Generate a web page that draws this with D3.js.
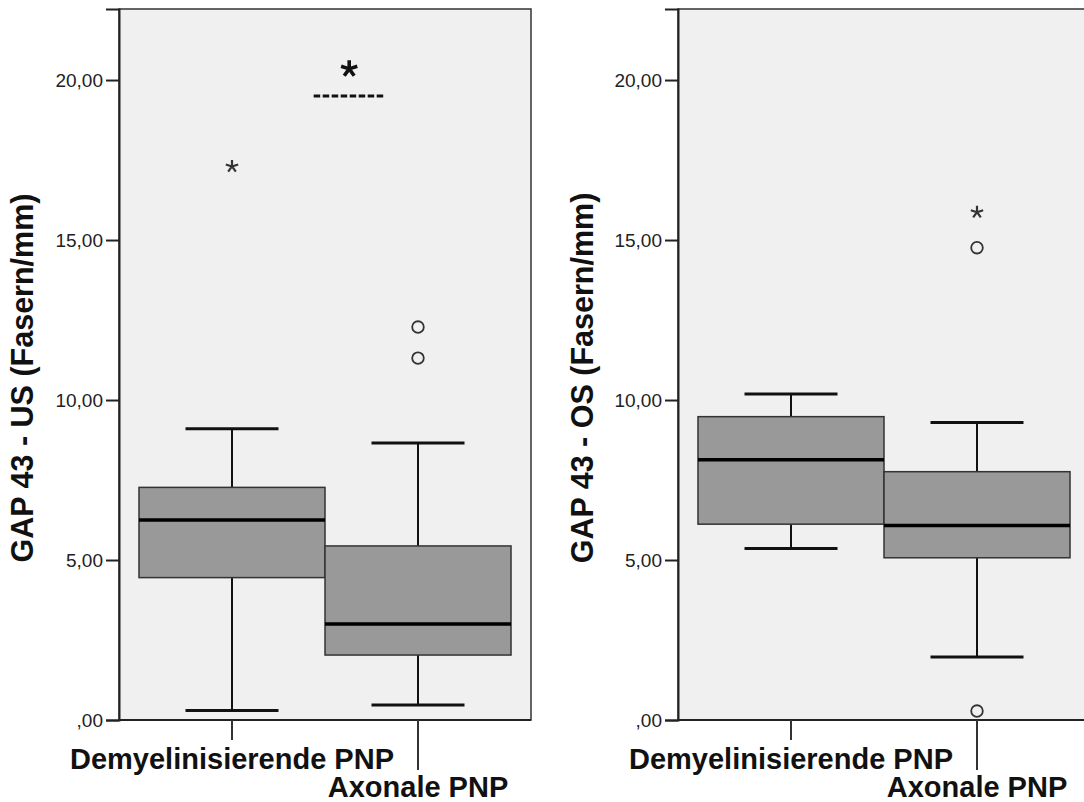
<!DOCTYPE html>
<html>
<head>
<meta charset="utf-8">
<script src="https://cdn.jsdelivr.net/npm/d3@7"></script>
<style>
  body { margin: 0; background: #fff; }
  svg { display: block; font-family: Arial, 'Liberation Sans', sans-serif; }
</style>
</head>
<body>
<div id="chart"></div>
<script>
const categories = ['Demyelinisierende PNP', 'Axonale PNP']
const yTicks = [0, 5, 10, 15, 20]

// box stats: [lower whisker, q1, median, q3, upper whisker]
const usStats = [
  [0.3, 4.45, 6.25, 7.27, 9.1],
  [0.47, 2.03, 3.0, 5.44, 8.66],
]
const osStats = [
  [5.36, 6.12, 8.13, 9.48, 10.19],
  [1.97, 5.07, 6.08, 7.76, 9.3],
]

// outliers: [category index, value]
const usCircles = [[1, 12.28], [1, 11.31]]
const usStars = [[0, 17.3]]
const osCircles = [[1, 14.76], [1, 0.28]]
const osStars = [[1, 15.87]]

const panels = [
  { title: 'GAP 43 - US (Fasern/mm)', stats: usStats, circles: usCircles, stars: usStars, x0: 119, x1: 531, titleX: 23, sig: true },
  { title: 'GAP 43 - OS (Fasern/mm)', stats: osStats, circles: osCircles, stars: osStars, x0: 678, x1: 1090, titleX: 583, sig: false },
]

const width = 1084
const height = 802
const plotTop = 9
const plotBottom = 720

const svg = d3.select('#chart').append('svg')
  .attr('width', width)
  .attr('height', height)

const scaleY = d3.scaleLinear()
  .domain([0, 22.22])
  .range([plotBottom, plotTop])

function starPath(r) {
  let p = ''
  for (let i = 0; i < 5; i++) {
    const a = -Math.PI / 2 + i * 2 * Math.PI / 5
    p += `M0,0L${(r * Math.cos(a)).toFixed(2)},${(r * Math.sin(a)).toFixed(2)}`
  }
  return p
}

function drawPanel(panel) {
  const g = svg.append('g')

  const scaleX = d3.scaleBand()
    .domain(categories)
    .range([panel.x0, panel.x1])
    .paddingInner(0)
    .paddingOuter(0.1075)

  const bw = scaleX.bandwidth()

  g.append('rect')
    .attr('x', panel.x0)
    .attr('y', plotTop)
    .attr('width', panel.x1 - panel.x0)
    .attr('height', plotBottom - plotTop)
    .attr('fill', '#f0f0f0')
    .attr('stroke', '#333')
    .attr('stroke-width', 1.5)

  // y axis
  const axisY = d3.axisLeft(scaleY)
    .tickValues(yTicks)
    .tickSize(13)
    .tickPadding(3)
    .tickFormat(d => d === 0 ? ',00' : d3.format('.2f')(d).replace('.', ','))

  const yG = g.append('g')
    .attr('transform', `translate(${panel.x0},0)`)
    .call(axisY)
  yG.select('.domain').attr('stroke', '#222').attr('stroke-width', 2)
  yG.selectAll('.tick line').attr('stroke', '#222').attr('stroke-width', 2)
  yG.selectAll('.tick text')
    .attr('font-size', 19)
    .attr('fill', '#222')

  // x axis line + staggered ticks
  g.append('line')
    .attr('x1', panel.x0).attr('x2', panel.x1)
    .attr('y1', plotBottom).attr('y2', plotBottom)
    .attr('stroke', '#222').attr('stroke-width', 2)

  categories.forEach((c, i) => {
    const cx = scaleX(c) + bw / 2
    g.append('line')
      .attr('x1', cx).attr('x2', cx)
      .attr('y1', plotBottom).attr('y2', i === 0 ? 740 : 770)
      .attr('stroke', '#333').attr('stroke-width', 2)
    g.append('text')
      .attr('x', cx)
      .attr('y', i === 0 ? 769 : 797)
      .attr('text-anchor', 'middle')
      .attr('font-size', 29)
      .attr('font-weight', 'bold')
      .attr('fill', '#111')
      .text(c)
  })

  // boxes
  panel.stats.forEach((s, i) => {
    const x = scaleX(categories[i])
    const cx = x + bw / 2
    const [lo, q1, med, q3, hi] = s
    const cap = bw / 2

    g.append('line')
      .attr('x1', cx).attr('x2', cx)
      .attr('y1', scaleY(hi)).attr('y2', scaleY(q3))
      .attr('stroke', '#111').attr('stroke-width', 2)
    g.append('line')
      .attr('x1', cx).attr('x2', cx)
      .attr('y1', scaleY(q1)).attr('y2', scaleY(lo))
      .attr('stroke', '#111').attr('stroke-width', 2)
    ;[lo, hi].forEach(v => {
      g.append('line')
        .attr('x1', cx - cap / 2).attr('x2', cx + cap / 2)
        .attr('y1', scaleY(v)).attr('y2', scaleY(v))
        .attr('stroke', '#111').attr('stroke-width', 3)
    })
    g.append('rect')
      .attr('x', x)
      .attr('y', scaleY(q3))
      .attr('width', bw)
      .attr('height', scaleY(q1) - scaleY(q3))
      .attr('fill', '#999')
      .attr('stroke', '#333')
      .attr('stroke-width', 1.5)
    g.append('line')
      .attr('x1', x).attr('x2', x + bw)
      .attr('y1', scaleY(med)).attr('y2', scaleY(med))
      .attr('stroke', '#000').attr('stroke-width', 3.5)
  })

  // outliers
  panel.circles.forEach(([i, v]) => {
    g.append('circle')
      .attr('cx', scaleX(categories[i]) + bw / 2)
      .attr('cy', scaleY(v))
      .attr('r', 5.8)
      .attr('fill', 'none')
      .attr('stroke', '#333')
      .attr('stroke-width', 1.8)
  })
  panel.stars.forEach(([i, v]) => {
    g.append('path')
      .attr('d', starPath(6.5))
      .attr('transform', `translate(${scaleX(categories[i]) + bw / 2},${scaleY(v)})`)
      .attr('stroke', '#333')
      .attr('stroke-width', 2.2)
      .attr('fill', 'none')
  })

  // significance marker
  if (panel.sig) {
    const sx = scaleX(categories[1]) - bw * 0.05 + 33
    g.append('line')
      .attr('x1', sx - 35).attr('x2', sx + 36)
      .attr('y1', scaleY(19.5)).attr('y2', scaleY(19.5))
      .attr('stroke', '#111')
      .attr('stroke-width', 3)
      .attr('stroke-dasharray', '6.5,2.5')
    g.append('path')
      .attr('d', starPath(8.5))
      .attr('transform', `translate(${sx + 0.5},${scaleY(20.35)})`)
      .attr('stroke', '#111')
      .attr('stroke-width', 3.6)
      .attr('fill', 'none')
  }

  // y title
  g.append('text')
    .attr('transform', `translate(${panel.titleX + 10},${378}) rotate(-90)`)
    .attr('text-anchor', 'middle')
    .attr('font-size', 30.5)
    .attr('font-weight', 'bold')
    .attr('fill', '#111')
    .text(panel.title)
}

panels.forEach(drawPanel)
</script>
</body>
</html>
